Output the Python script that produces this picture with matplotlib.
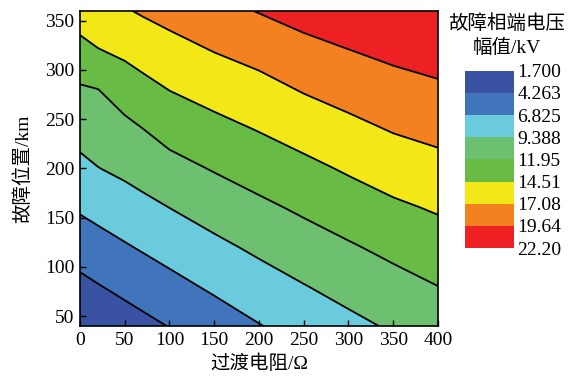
import matplotlib

matplotlib.use("Agg")
import matplotlib.pyplot as plt  # noqa: E402
import numpy as np  # noqa: E402

plt.rcParams["font.family"] = ["Liberation Serif", "Noto Sans CJK SC"]
plt.rcParams["mathtext.fontset"] = "stix"

# transition resistance (ohm) and fault location (km) grid
resistance = [0, 20, 50, 70, 100, 150, 200, 250, 300, 350, 400]
location = [40, 80, 120, 160, 200, 240, 280, 320, 360]

# voltage amplitude (kV), one row per resistance value
volt_r0 = [1.70, 3.60, 5.39, 7.11, 8.77, 10.27, 11.67, 13.73, 15.74]
volt_r20 = [2.30, 4.13, 5.87, 7.60, 9.33, 10.63, 11.91, 14.40, 16.25]
volt_r50 = [3.13, 4.86, 6.59, 8.30, 9.90, 11.33, 13.08, 15.03, 16.88]
volt_r70 = [3.62, 5.34, 7.06, 8.74, 10.36, 11.92, 13.75, 15.53, 17.34]
volt_r100 = [4.34, 6.06, 7.74, 9.39, 11.13, 12.85, 14.55, 16.21, 17.93]
volt_r150 = [5.53, 7.21, 8.82, 10.46, 12.12, 13.77, 15.45, 17.17, 18.87]
volt_r200 = [6.72, 8.28, 9.85, 11.43, 13.03, 14.63, 16.25, 17.96, 19.75]
volt_r250 = [7.76, 9.28, 10.81, 12.34, 13.89, 15.54, 17.25, 18.91, 20.56]
volt_r300 = [8.75, 10.23, 11.69, 13.23, 14.80, 16.42, 18.03, 19.60, 21.18]
volt_r350 = [9.69, 11.10, 12.56, 14.09, 15.66, 17.25, 18.73, 20.22, 21.70]
volt_r400 = [10.56, 11.93, 13.34, 14.76, 16.29, 17.79, 19.24, 20.70, 22.20]

levels = [1.700, 4.263, 6.825, 9.388, 11.95, 14.51, 17.08, 19.64, 22.20]
level_labels = ["1.700", "4.263", "6.825", "9.388", "11.95", "14.51", "17.08", "19.64", "22.20"]
colors = ["#3a52a3", "#4175bb", "#69cbdb", "#6cc06f", "#68bb45", "#f2e818", "#f48120", "#ed2124"]

volt = np.array([volt_r0, volt_r20, volt_r50, volt_r70, volt_r100, volt_r150,
                 volt_r200, volt_r250, volt_r300, volt_r350, volt_r400]).T

fig = plt.figure(figsize=(5.71, 3.76), dpi=100)
ax = fig.add_axes([0.140, 0.133, 0.627, 0.838])
cf = ax.contourf(resistance, location, volt, levels=levels, colors=colors)
ax.contour(resistance, location, volt, levels=levels[1:-1], colors="black", linewidths=1.3)

ax.set_xlim(0, 400)
ax.set_ylim(40, 360)
ax.set_xticks(range(0, 401, 50))
ax.set_yticks(range(50, 351, 50))
ax.tick_params(direction="in", labelsize=14, length=4, width=1, pad=4)
for s in ax.spines.values():
    s.set_linewidth(1.2)
ax.set_xlabel("过渡电阻/Ω", fontsize=14, labelpad=4)
ax.set_ylabel("故障位置/km", fontsize=14, labelpad=9)

cax = fig.add_axes([0.814, 0.340, 0.087, 0.472])
cb = fig.colorbar(cf, cax=cax, ticks=levels)
cb.ax.set_yticklabels(level_labels)
cb.ax.invert_yaxis()
cb.ax.tick_params(length=0, labelsize=14, pad=2)
cb.outline.set_visible(False)
fig.text(0.888, 0.905, "故障相端电压\n幅值/kV", ha="center", va="center",
         fontsize=14, linespacing=1.45)

fig.savefig("out.png", dpi=100)
